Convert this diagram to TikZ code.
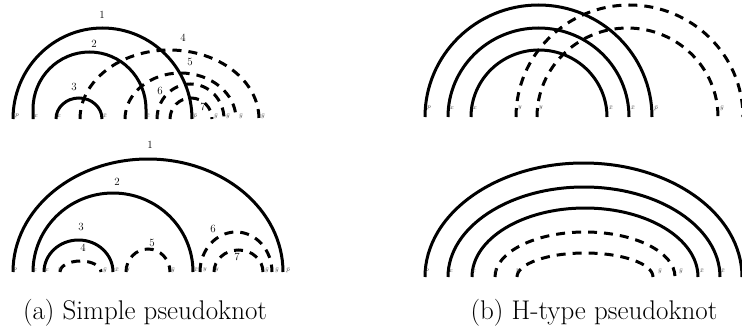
\documentclass[tikz,border=0pt]{standalone}
\newcommand\pkarc[5]{\draw[#1] (#2,#5) arc[start angle=180,end angle=0,x radius={(#3-#2)/2*1pt},y radius={(#5-#4)*1pt}];}
\begin{document}
\begin{tikzpicture}[x=1pt,y=-1pt,
  solidarc/.style={line width=3pt},
  dasharc/.style={line width=3pt,dash pattern=on 9pt off 7pt},
  num/.style={font=\fontsize{11}{11}\selectfont,inner sep=0pt},
  lab/.style={font=\fontsize{6}{6}\selectfont,inner sep=0pt,text=black!75},
  capt/.style={font=\fontsize{27}{30}\selectfont,inner sep=0pt}]
\useasboundingbox (0,0) rectangle (742,332);

% ---------- top left: simple pseudoknot ----------
\pkarc{solidarc}{13}{192}{28}{119}
\draw[solidarc] (33,119) -- (33,109) arc[start angle=180,end angle=0,x radius=56.5pt,y radius=57pt] -- (146,119);
\pkarc{solidarc}{56}{102}{98}{119}
\pkarc{dasharc}{80}{259}{50}{119}
\pkarc{dasharc}{125}{236}{73}{119}
\pkarc{dasharc}{157}{224}{84}{119}
\pkarc{dasharc}{170}{212}{98}{119}
\node[num] (tl1) at (102,15) {1};
\node[num] (tl2) at (94,44) {2};
\node[num] (tl3) at (74,87) {3};
\node[num] (tl4) at (183,38) {4};
\node[num] (tl5) at (190,62) {5};
\node[num] (tl6) at (160,91) {6};
\node[num] (tl7) at (203,107) {7};
\node[lab] (tla) at (17,116) {$p$};
\node[lab] (tlb) at (36,116) {$x$};
\node[lab] (tlc) at (59,116) {$x$};
\node[lab] (tld) at (105,116) {$\bar{x}$};
\node[lab] (tle) at (148,116) {$\bar{x}$};
\node[lab] (tlf) at (158,116) {$y$};
\node[lab] (tlg) at (195,116) {$\bar{p}$};
\node[lab] (tlh) at (216,116) {$\bar{y}$};
\node[lab] (tli) at (228,116) {$\bar{y}$};
\node[lab] (tlj) at (241,116) {$\bar{y}$};
\node[lab] (tlk) at (263,116) {$\bar{y}$};

% ---------- bottom left ----------
\pkarc{solidarc}{13}{283}{159}{272}
\pkarc{solidarc}{33}{193}{193}{272}
\pkarc{solidarc}{44}{113}{240}{272}
\pkarc{dasharc}{60}{101}{261}{272}
\pkarc{dasharc}{126}{170}{249}{272}
\pkarc{dasharc}{200}{272}{232}{272}
\pkarc{dasharc}{214}{263}{250}{272}
\node[num] (bl1) at (150,145) {1};
\node[num] (bl2) at (117,182) {2};
\node[num] (bl3) at (81,227) {3};
\node[num] (bl4) at (83,248) {4};
\node[num] (bl5) at (152,243) {5};
\node[num] (bl6) at (213,229) {6};
\node[num] (bl7) at (237,257) {7};
\node[lab] (bla) at (15,270) {$p$};
\node[lab] (blb) at (35,270) {$x$};
\node[lab] (blc) at (47,270) {$x$};
\node[lab] (bld) at (60,270) {$y$};
\node[lab] (ble) at (105,270) {$\bar{y}$};
\node[lab] (blf) at (117,270) {$\bar{x}$};
\node[lab] (blg) at (128,270) {$y$};
\node[lab] (blh) at (173,270) {$\bar{y}$};
\node[lab] (bli) at (196,270) {$\bar{x}$};
\node[lab] (blj) at (205,270) {$y$};
\node[lab] (blk) at (217,270) {$y$};
\node[lab] (bll) at (267,270) {$\bar{y}$};
\node[lab] (blm) at (277,270) {$\bar{y}$};
\node[lab] (bln) at (288,270) {$\bar{p}$};

% ---------- top right: H-type ----------
\pkarc{solidarc}{425}{652}{5}{117}
\pkarc{solidarc}{448}{629}{28}{117}
\pkarc{solidarc}{471}{607}{50}{117}
\pkarc{dasharc}{516}{743}{5}{117}
\pkarc{dasharc}{537}{718}{28}{117}
\node[lab] (tra) at (429,108) {$p$};
\node[lab] (trb) at (452,108) {$x$};
\node[lab] (trc) at (475,108) {$x$};
\node[lab] (trd) at (520,108) {$y$};
\node[lab] (tre) at (541,108) {$y$};
\node[lab] (trf) at (611,108) {$\bar{x}$};
\node[lab] (trg) at (633,108) {$\bar{x}$};
\node[lab] (trh) at (656,108) {$\bar{p}$};
\node[lab] (tri) at (722,108) {$\bar{y}$};

% ---------- bottom right ----------
\pkarc{solidarc}{425}{742}{163}{277}
\pkarc{solidarc}{448}{720}{187}{277}
\pkarc{solidarc}{472}{698}{208}{277}
\pkarc{dasharc}{495}{675}{232}{277}
\pkarc{dasharc}{517}{653}{253}{277}
\node[lab] (bra) at (427,271) {$p$};
\node[lab] (brb) at (451,271) {$x$};
\node[lab] (brc) at (474,271) {$x$};
\node[lab] (brd) at (496,271) {$y$};
\node[lab] (bre) at (518,271) {$y$};
\node[lab] (brf) at (660,271) {$\bar{y}$};
\node[lab] (brg) at (681,271) {$\bar{y}$};
\node[lab] (brh) at (702,271) {$\bar{x}$};
\node[lab] (bri) at (723,271) {$\bar{x}$};

% ---------- captions ----------
\node[capt] (capa) at (145,313) {(a) Simple pseudoknot};
\node[capt] (capb) at (594,313) {(b) H-type pseudoknot};
\end{tikzpicture}
\end{document}
